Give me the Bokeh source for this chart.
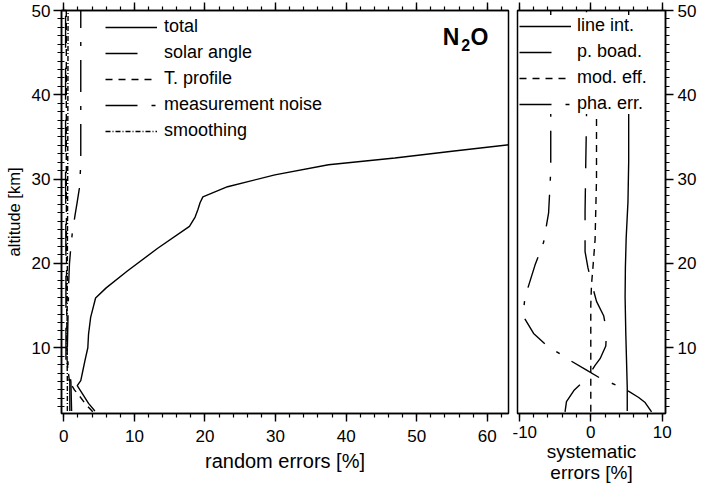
from bokeh.plotting import figure
from bokeh.models import FixedTicker, LinearAxis, Range1d, Legend, LegendItem, Label
from bokeh.layouts import row
from bokeh.embed import file_html
from bokeh.resources import INLINE

FONT = "Liberation Sans"

# ---------------- data: random errors [%] vs altitude [km] ----------------
total_alt = [2.5, 3.4, 4.6, 5.5, 6.1, 7.3, 8.5, 10.0, 11.6, 13.6, 15.9, 17.1, 19.1, 21.8,
             24.4, 25.5, 26.4, 27.2, 27.9, 29.1, 30.5, 31.7, 32.5, 33.3, 34.1]
total_val = [4.4, 3.5, 2.6, 1.9, 2.4, 2.7, 3.0, 3.4, 3.5, 3.8, 4.5, 6.0, 9.0, 13.3,
             17.8, 18.6, 19.0, 19.3, 19.7, 23.2, 29.9, 37.5, 46.9, 55.0, 63.3]

solar_alt = [2.5, 6.0, 7.0, 10.0, 20.0, 30.0, 50.0]
solar_val = [0.85, 0.85, 0.3, 0.3, 0.3, 0.25, 0.25]

tprof_alt = [2.4, 3.4, 4.3, 5.0, 6.0, 8.0, 15.0, 30.0, 50.0]
tprof_val = [4.1, 3.0, 2.2, 1.5, 0.8, 0.5, 0.4, 0.35, 0.35]

noise_alt = [2.5, 6.0, 8.0, 10.0, 14.0, 18.0, 20.0, 22.0, 23.6, 25.8, 27.3, 28.9, 31.7, 50.0]
noise_val = [1.1, 1.0, 0.6, 0.5, 0.6, 0.7, 0.8, 1.0, 1.2, 1.6, 1.9, 2.2, 2.4, 2.4]

smooth_alt = [2.5, 6.0, 10.0, 20.0, 30.0, 50.0]
smooth_val = [0.5, 0.5, 0.45, 0.5, 0.55, 0.6]

# ---------------- data: systematic errors [%] vs altitude [km] ----------------
lint_alt = [2.5, 5.3, 11.6, 16.0, 19.5, 23.0, 27.3, 32.0, 37.2, 50.0]
lint_val = [5.1, 5.1, 4.9, 4.8, 4.84, 4.95, 5.2, 5.3, 5.3, 5.3]

pboad_alt = [2.4, 3.6, 5.0, 6.1, 7.0, 7.9, 8.7, 10.2, 12.0, 13.8, 15.5, 17.7, 19.5, 21.4,
             26.2, 32.0, 37.0, 50.0]
pboad_val = [-3.6, -3.4, -2.3, -0.9, -0.1, 0.6, 1.3, 2.1, 2.2, 1.8, 0.8, 0.1, -0.4, -0.8,
             -0.8, -0.7, -0.6, -0.6]

modeff_alt = [2.4, 10.0, 15.0, 17.5, 19.5, 22.8, 30.0, 37.0, 50.0]
modeff_val = [0.0, 0.0, 0.0, 0.1, 0.3, 0.6, 0.8, 0.8, 0.8]

phaerr_alt = [2.4, 3.5, 4.1, 5.2, 6.3, 7.4, 8.5, 10.3, 11.7, 13.4, 14.5, 16.0, 19.8, 22.5,
              26.0, 31.0, 37.2, 50.0]
phaerr_val = [8.5, 7.6, 6.7, 4.6, 1.5, -0.7, -2.9, -6.2, -8.0, -9.2, -9.4, -9.2, -7.8, -6.6,
              -5.9, -5.6, -5.6, -5.6]

left_labels = ["total", "solar angle", "T. profile", "measurement noise", "smoothing"]
right_labels = ["line int.", "p. boad.", "mod. eff.", "pha. err."]

alt_ticks = [10, 20, 30, 40, 50]
alt_minor = list(range(3, 51))
rand_ticks = [0, 10, 20, 30, 40, 50, 60]
rand_minor = list(range(0, 64, 2))
sys_ticks = [-10, 0, 10]
sys_minor = list(range(-10, 11, 2))

Y_RANGE = (2.2, 50)


def style_axis(ax, ticks, minor, labels=True, tick_in=0, minor_in=0, size="17px"):
    ax.ticker = FixedTicker(ticks=ticks, minor_ticks=minor)
    ax.axis_line_color = "black"
    ax.axis_line_width = 1.5
    ax.major_tick_line_color = "black"
    ax.major_tick_line_width = 1.4
    ax.minor_tick_line_color = "black"
    ax.minor_tick_line_width = 1.2
    ax.major_tick_out = 8
    ax.major_tick_in = tick_in
    ax.minor_tick_out = 4
    ax.minor_tick_in = minor_in
    if labels:
        ax.major_label_text_font = FONT
        ax.major_label_text_font_size = size
        ax.major_label_text_color = "black"
        ax.major_label_standoff = 4
    else:
        ax.major_label_text_font_size = "0px"
        ax.major_label_text_color = None
        ax.major_label_text_alpha = 0
        ax.major_label_standoff = 0
    ax.axis_label_text_font = FONT
    ax.axis_label_text_font_style = "normal"
    ax.axis_label_text_color = "black"


def base_fig(width, xr, ml, mr, yloc):
    p = figure(width=width, height=486, x_range=Range1d(*xr), y_range=Range1d(*Y_RANGE),
               output_backend="svg", toolbar_location=None, y_axis_location=yloc,
               min_border_left=ml, min_border_right=mr, min_border_top=10,
               min_border_bottom=73)
    p.xgrid.visible = False
    p.ygrid.visible = False
    p.outline_line_color = "black"
    p.outline_line_width = 1.5
    p.background_fill_color = "white"
    p.border_fill_color = "white"
    return p


# ---------------- left panel ----------------
p1 = base_fig(512, (-0.33, 63.0), 61, 4, "left")
lw = 1.4
r_total = p1.line(total_val, total_alt, line_color="black", line_width=lw)
r_solar = p1.line(solar_val, solar_alt, line_color="black", line_width=lw, line_dash="32 20")
r_tprof = p1.line(tprof_val, tprof_alt, line_color="black", line_width=lw, line_dash="7 6")
r_noise = p1.line(noise_val, noise_alt, line_color="black", line_width=lw, line_dash="32 14 4 14")
r_smooth = p1.line(smooth_val, smooth_alt, line_color="black", line_width=lw, line_dash="5 2 1 2")

style_axis(p1.xaxis[0], rand_ticks, rand_minor)
p1.xaxis[0].major_label_standoff = 8
p1.xaxis[0].axis_label = "random errors [%]"
p1.xaxis[0].axis_label_text_font_size = "20px"
p1.xaxis[0].axis_label_standoff = 5
style_axis(p1.yaxis[0], alt_ticks, alt_minor, tick_in=5, minor_in=3)
p1.yaxis[0].major_label_standoff = 3
p1.yaxis[0].axis_label = "altitude [km]"
p1.yaxis[0].axis_label_text_font_size = "16.5px"
p1.yaxis[0].axis_label_standoff = 6
top1 = LinearAxis()
style_axis(top1, rand_ticks, rand_minor, labels=False)
p1.add_layout(top1, "above")

leg1 = Legend(items=[LegendItem(label=l, renderers=[r]) for l, r in
                     zip(left_labels, [r_total, r_solar, r_tprof, r_noise, r_smooth])],
              location=(44, 272), glyph_width=52, glyph_height=20, label_height=20,
              spacing=5, padding=5, label_standoff=7, label_text_font=FONT,
              label_text_font_size="18px", label_text_color="black",
              border_line_color=None, background_fill_color="white",
              background_fill_alpha=1.0)
p1.add_layout(leg1, "center")

for txt, xx, yy, sz in [("N", 53.7, 46.8, "23px"), ("2", 56.3, 45.9, "16px"), ("O", 57.6, 46.8, "23px")]:
    p1.add_layout(Label(x=xx, y=yy, text=txt, text_font=FONT, text_font_size=sz,
                        text_font_style="bold", text_color="black",
                        text_align="left", text_baseline="alphabetic"))

# ---------------- right panel ----------------
p2 = base_fig(192, (-10.25, 10.45), 5, 39, "right")
r_lint = p2.line(lint_val, lint_alt, line_color="black", line_width=lw)
r_pboad = p2.line(pboad_val, pboad_alt, line_color="black", line_width=lw, line_dash="32 20")
r_modeff = p2.line(modeff_val, modeff_alt, line_color="black", line_width=lw, line_dash="7 6")
r_phaerr = p2.line(phaerr_val, phaerr_alt, line_color="black", line_width=lw, line_dash="32 14 4 14")

style_axis(p2.xaxis[0], sys_ticks, sys_minor)
p2.xaxis[0].major_label_standoff = 4
p2.xaxis[0].major_label_overrides = {-10: "-10", 0: "0", 10: "10"}
p2.xaxis[0].axis_label = "systematic\nerrors [%]"
p2.xaxis[0].axis_label_text_font_size = "19px"
p2.xaxis[0].axis_label_text_line_height = 1.0
p2.xaxis[0].axis_label_standoff = 0
style_axis(p2.yaxis[0], alt_ticks, alt_minor)

top2 = LinearAxis()
style_axis(top2, sys_ticks, sys_minor, labels=False)
p2.add_layout(top2, "above")

leg2 = Legend(items=[LegendItem(label=l, renderers=[r]) for l, r in
                     zip(right_labels, [r_lint, r_pboad, r_modeff, r_phaerr])],
              location=(2, 299), glyph_width=52, glyph_height=20, label_height=20,
              spacing=5, padding=3, label_standoff=6, label_text_font=FONT,
              label_text_font_size="18px", label_text_color="black",
              border_line_color=None, background_fill_color="white",
              background_fill_alpha=1.0)
p2.add_layout(leg2, "center")

layout = row(p1, p2)
open("out.html", "w").write(file_html(layout, INLINE))
